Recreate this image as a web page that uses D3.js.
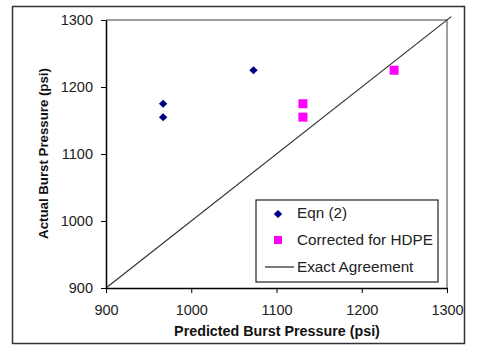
<!DOCTYPE html>
<html><head><meta charset="utf-8">
<script src="https://cdn.jsdelivr.net/npm/d3@7"></script>
<style>body{margin:0;background:#fff}svg{display:block}text{font-family:"Liberation Sans",Arial,sans-serif}</style>
</head><body><svg id="c" width="480" height="360"></svg>
<script>
const xTicks = [900, 1000, 1100, 1200, 1300];
const yTicks = [900, 1000, 1100, 1200, 1300];
const eqnX = [967, 967, 1073];
const eqnY = [1175, 1155, 1225];
const corrX = [1131, 1131, 1238];
const corrY = [1175, 1155, 1225];
const exactLine = [900, 1305];
const legendLabels = ["Eqn (2)", "Corrected for HDPE", "Exact Agreement"];

const svg = d3.select("#c");
const L = 106, R = 447, T = 20, B = 288;
const x = d3.scaleLinear().domain([900, 1300]).range([L, R]);
const y = d3.scaleLinear().domain([900, 1300]).range([B, T]);

function fit(sel, target, base) {
  const w = sel.node().getComputedTextLength();
  sel.attr("font-size", base * target / w);
}

// outer frame
svg.append("rect").attr("x", 12.5).attr("y", 6.5).attr("width", 452).attr("height", 337)
  .attr("fill", "none").attr("stroke", "#333").attr("stroke-width", 1.5);

// plot frame (top/right gray)
svg.append("path").attr("d", `M${L},${T}H${R}V${B}`).attr("fill", "none")
  .attr("stroke", "#808080").attr("stroke-width", 1.5);

// diagonal
svg.append("line").attr("x1", x(exactLine[0])).attr("y1", y(exactLine[0]))
  .attr("x2", x(exactLine[1])).attr("y2", y(exactLine[1]))
  .attr("stroke", "#333").attr("stroke-width", 1.2);

// axes
const fmt = d3.format("d");
const xa = svg.append("g").attr("transform", `translate(0,${B})`)
  .call(d3.axisBottom(x).tickValues(xTicks).tickFormat(fmt).tickSize(5).tickSizeOuter(0).tickPadding(12));
const ya = svg.append("g").attr("transform", `translate(${L},0)`)
  .call(d3.axisLeft(y).tickValues(yTicks).tickFormat(fmt).tickSize(5).tickSizeOuter(0).tickPadding(8));
[xa, ya].forEach(a => {
  a.select(".domain").attr("stroke", "#000").attr("stroke-width", 1.5);
  a.selectAll(".tick line").attr("stroke", "#000").attr("stroke-width", 1);
  a.selectAll("text").attr("font-size", 14.5).attr("fill", "#222")
    .style("font-family", '"Liberation Sans",Arial,sans-serif');
});

// points
const diamond = "M0,-4L4.2,0L0,4L-4.2,0Z";
svg.append("g").selectAll("path").data(eqnX.map((v, i) => [v, eqnY[i]])).join("path")
  .attr("d", diamond).attr("transform", d => `translate(${x(d[0])},${y(d[1])})`).attr("fill", "#000080");
svg.append("g").selectAll("rect").data(corrX.map((v, i) => [v, corrY[i]])).join("rect")
  .attr("x", d => x(d[0]) - 4.5).attr("y", d => y(d[1]) - 4.5).attr("width", 9).attr("height", 9)
  .attr("fill", "#FF00FF");

// axis titles
const xt = svg.append("text").attr("x", 277).attr("y", 336).attr("text-anchor", "middle")
  .attr("font-size", 13).attr("font-weight", "bold").attr("fill", "#111").text("Predicted Burst Pressure (psi)");
fit(xt, 206, 13);
const yt = svg.append("text").attr("transform", "translate(48,153.5) rotate(-90)").attr("text-anchor", "middle")
  .attr("font-size", 13).attr("font-weight", "bold").attr("fill", "#111").text("Actual Burst Pressure (psi)");
fit(yt, 171, 13);

// legend
const lg = svg.append("g");
lg.append("rect").attr("x", 256).attr("y", 200).attr("width", 182).attr("height", 82)
  .attr("fill", "#fff").attr("stroke", "#222").attr("stroke-width", 1.2);
lg.append("path").attr("d", diamond).attr("transform", "translate(278,214)").attr("fill", "#000080");
lg.append("rect").attr("x", 274).attr("y", 236).attr("width", 8).attr("height", 8).attr("fill", "#FF00FF");
lg.append("line").attr("x1", 265).attr("x2", 294).attr("y1", 267).attr("y2", 267).attr("stroke", "#222").attr("stroke-width", 1.2);
const lt = legendLabels.map((t, i) =>
  lg.append("text").attr("x", 297).attr("y", 218 + i * 27).attr("font-size", 14).attr("fill", "#222").text(t));
const lw = lt[1].node().getComputedTextLength();
lt.forEach(s => s.attr("font-size", 14 * 136 / lw));
</script></body></html>
